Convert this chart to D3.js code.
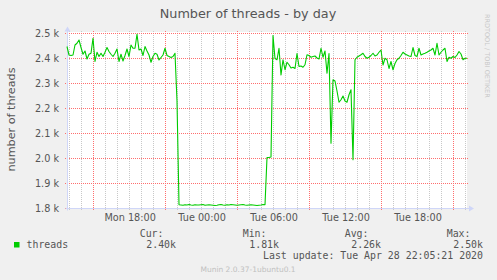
<!DOCTYPE html>
<html>
<head>
<meta charset="utf-8">
<script src="https://cdn.jsdelivr.net/npm/d3@7"></script>
<style>
  body { margin: 0; background: #f0f0f0; }
  svg { display: block; }
</style>
</head>
<body>
<div id="chart"></div>
<script>
// chart data
const title = 'Number of threads - by day';
const yLabel = 'number of threads';
const seriesName = 'threads';
const startTime = new Date(Date.UTC(2020, 3, 27, 12, 47));
const endTime = new Date(Date.UTC(2020, 3, 28, 22, 7));
const stepMinutes = 10;
const threads = [
  2448, 2414, 2412, 2414, 2454, 2461, 2474, 2444, 2417, 2430,
  2398, 2417, 2421, 2481, 2388, 2425, 2408, 2421, 2408, 2425,
  2444, 2428, 2417, 2408, 2421, 2438, 2388, 2417, 2390, 2412,
  2438, 2408, 2454, 2441, 2441, 2497, 2434, 2438, 2412, 2448,
  2430, 2414, 2385, 2408, 2421, 2417, 2394, 2404, 2414, 2441,
  2412, 2408, 2404, 2408, 2421, 2230,
  1815, 1814, 1813, 1815, 1814, 1816, 1814, 1813, 1815, 1814,
  1814, 1815, 1816, 1813, 1814, 1815, 1814, 1813, 1812, 1813,
  1815, 1816, 1814, 1813, 1815, 1814, 1816, 1815, 1814, 1813,
  1814, 1815, 1816, 1814, 1813, 1814, 1815, 1814, 1813, 1812,
  1813, 1814, 1816, 1815,
  2004, 2004, 2006,
  2492, 2400, 2395, 2441, 2334, 2395, 2355, 2385, 2375, 2362,
  2365, 2360, 2420, 2368, 2370, 2365, 2375, 2415, 2412, 2405,
  2408, 2410, 2402, 2398, 2441, 2405, 2430, 2341, 2420, 2061,
  2315, 2310, 2270, 2225, 2235, 2250, 2230, 2225, 2255, 2275,
  1995,
  2395, 2405, 2410, 2415, 2421, 2408, 2401, 2405, 2412, 2421,
  2410, 2414, 2425, 2434, 2374, 2401, 2395, 2360, 2388, 2355,
  2380, 2395, 2401, 2412, 2425, 2418, 2414, 2410, 2408, 2444,
  2412, 2408, 2441, 2414, 2418, 2421, 2425, 2430, 2434, 2441,
  2414, 2461, 2414, 2425, 2434, 2441, 2388, 2405, 2401, 2408,
  2404, 2414, 2428, 2418, 2395, 2401, 2401
];
const yTicks = [1800, 1900, 2000, 2100, 2200, 2300, 2400, 2500];
const legendHeads = ['Cur:', 'Min:', 'Avg:', 'Max:'];
const legendValues = ['2.40k', '1.81k', '2.26k', '2.50k'];
const lastUpdate = 'Last update: Tue Apr 28 22:05:21 2020';
const footer = 'Munin 2.0.37-1ubuntu0.1';
const watermark = 'RRDTOOL / TOBI OETIKER';

let width = 497,
    height = 280,
    plot = {left: 67, top: 33.5, width: 400, height: 175},
    fontColor = '#555555',
    axisColor = '#cfd6f8',
    majorGrid = 'rgb(255,110,110)',
    minorGrid = 'rgb(200,200,200)',
    green = '#00cc00',
    sans = '"DejaVu Sans", sans-serif',
    mono = '"DejaVu Sans Mono", monospace';

let svg = d3.select('#chart').append('svg')
    .attr('width', width)
    .attr('height', height);

svg.append('rect')
    .attr('width', width)
    .attr('height', height)
    .attr('fill', '#f0f0f0');

let x = d3.scaleUtc()
    .domain([startTime, endTime])
    .range([plot.left, plot.left + plot.width]);

let y = d3.scaleLinear()
    .domain([1800, 2500])
    .range([plot.top + plot.height, plot.top]);

// centre of the pixel a value falls in, so 1px lines stay sharp
let crisp = v => Math.round(v - 0.5) + 0.5;

// canvas
svg.append('rect')
    .attr('x', plot.left)
    .attr('y', plot.top - 1.5)
    .attr('width', plot.width)
    .attr('height', plot.height + 1.5)
    .attr('fill', '#ffffff');

// dotted lines start on whole pixels so every dot is a full pixel
let gridTop = Math.floor(plot.top) - 2,
    gridBottom = Math.floor(plot.top + plot.height) + 3,
    gridLeft = plot.left - 2,
    gridRight = plot.left + plot.width + 2;

// vertical grid: minor every hour, major every 6h (offset 3h)
let hours = d3.utcHour.range(startTime, endTime);
let isMajor = d => d.getUTCHours() % 6 === 3;
let grid = svg.append('g');

grid.selectAll('.vgrid')
    .data(hours)
    .enter()
    .append('line')
    .attr('class', 'vgrid')
    .attr('x1', d => crisp(x(d)))
    .attr('x2', d => crisp(x(d)))
    .attr('y1', gridTop)
    .attr('y2', gridBottom)
    .style('stroke', d => isMajor(d) ? majorGrid : minorGrid)
    .style('stroke-width', '1px')
    .style('stroke-dasharray', '1 1');

// horizontal grid
grid.selectAll('.hgrid')
    .data(yTicks)
    .enter()
    .append('line')
    .attr('class', 'hgrid')
    .attr('x1', gridLeft)
    .attr('x2', gridRight)
    .attr('y1', d => crisp(y(d)))
    .attr('y2', d => crisp(y(d)))
    .style('stroke', majorGrid)
    .style('stroke-width', '1px')
    .style('stroke-dasharray', '1 1');

// axes lines with arrows
let axY = crisp(y(1800)), axX = crisp(plot.left);
svg.append('line')
    .attr('x1', axX).attr('x2', axX)
    .attr('y1', axY + 2).attr('y2', plot.top - 5)
    .attr('stroke', axisColor);
svg.append('path')
    .attr('d', `M ${axX - 3} ${plot.top - 2} L ${axX + 3} ${plot.top - 2} L ${axX} ${plot.top - 7} Z`)
    .attr('fill', axisColor);
svg.append('line')
    .attr('x1', axX - 2).attr('x2', plot.left + plot.width + 4)
    .attr('y1', axY).attr('y2', axY)
    .attr('stroke', axisColor);
svg.append('path')
    .attr('d', `M ${plot.left + plot.width + 2} ${axY - 3} L ${plot.left + plot.width + 2} ${axY + 3} L ${plot.left + plot.width + 7} ${axY} Z`)
    .attr('fill', axisColor);

// y tick labels
let yAxis = svg.append('g')
    .attr('transform', `translate(${plot.left},0)`)
    .call(d3.axisLeft(y)
        .tickValues(yTicks)
        .tickSize(0)
        .tickPadding(8)
        .tickFormat(d => d3.format('.1f')(d / 1000) + ' k'));
yAxis.select('.domain').remove();
yAxis.selectAll('text')
    .attr('fill', fontColor)
    .style('font-family', sans)
    .style('font-size', '9.7px');

// x tick labels every 6 hours
let xAxis = svg.append('g')
    .attr('transform', `translate(0,${plot.top + plot.height})`)
    .call(d3.axisBottom(x)
        .ticks(d3.utcHour.every(6))
        .tickSize(0)
        .tickPadding(5.5)
        .tickFormat(d3.utcFormat('%a %H:%M')));
xAxis.select('.domain').remove();
xAxis.selectAll('text')
    .attr('fill', fontColor)
    .style('font-family', sans)
    .style('font-size', '9.7px');

// series line
let points = threads.map((v, i) => ({t: d3.utcMinute.offset(startTime, i * stepMinutes), v: v}));
svg.append('path')
    .datum(points)
    .attr('fill', 'none')
    .attr('stroke', green)
    .attr('stroke-width', 1.1)
    .attr('stroke-linejoin', 'round')
    .attr('d', d3.line().x(d => x(d.t)).y(d => y(d.v)));

// title
svg.append('text')
    .text(title)
    .attr('x', 248)
    .attr('y', 18)
    .attr('text-anchor', 'middle')
    .attr('fill', fontColor)
    .style('font-family', sans)
    .style('font-size', '12.8px');

// y label
svg.append('text')
    .text(yLabel)
    .attr('transform', `translate(15,${plot.top + plot.height / 2 - 1.5}) rotate(-90)`)
    .attr('text-anchor', 'middle')
    .attr('fill', fontColor)
    .style('font-family', sans)
    .style('font-size', '11.2px');

// watermark
svg.append('text')
    .text(watermark)
    .attr('transform', 'translate(485,14) rotate(90)')
    .attr('fill', '#c8c8c8')
    .style('font-family', sans)
    .style('font-size', '6.5px');

// legend
let legend = svg.append('g')
    .style('font-family', mono)
    .style('font-size', '9.9px')
    .attr('fill', fontColor);
legend.append('rect')
    .attr('x', 14).attr('y', 242)
    .attr('width', 5.5).attr('height', 5.5)
    .attr('fill', green);
legend.append('text')
    .text(seriesName)
    .attr('x', 26.5).attr('y', 247.5);

let colRight = [163.5, 266.5, 368.5, 470.5];
legend.selectAll('.head')
    .data(legendHeads)
    .enter()
    .append('text')
    .attr('class', 'head')
    .text(d => d)
    .attr('x', (d, i) => colRight[i])
    .attr('y', 236.5)
    .attr('text-anchor', 'end');
legend.selectAll('.val')
    .data(legendValues)
    .enter()
    .append('text')
    .attr('class', 'val')
    .text(d => d)
    .attr('x', (d, i) => colRight[i] + 12.5)
    .attr('y', 247.5)
    .attr('text-anchor', 'end');
legend.append('text')
    .text(lastUpdate)
    .attr('x', 483)
    .attr('y', 259)
    .attr('text-anchor', 'end');

svg.append('text')
    .text(footer)
    .attr('x', 248)
    .attr('y', 272)
    .attr('text-anchor', 'middle')
    .attr('fill', '#c0c0c0')
    .style('font-family', sans)
    .style('font-size', '7.5px');
</script>
</body>
</html>
